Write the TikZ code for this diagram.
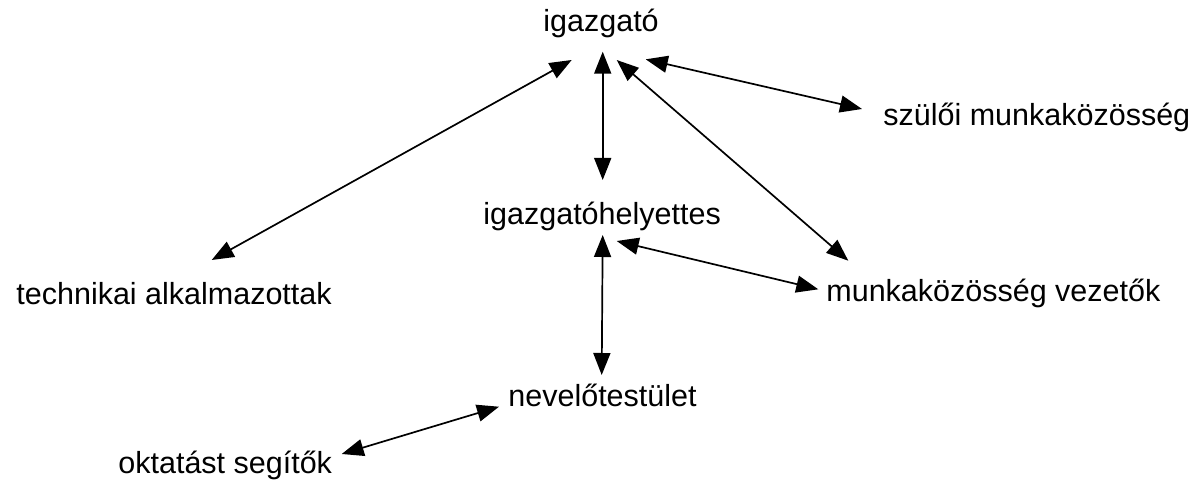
\documentclass[tikz,border=0pt]{standalone}
\usepackage{fontspec}
\setmainfont{Liberation Sans}
\usetikzlibrary{arrows.meta,calc}
\begin{document}
\begin{tikzpicture}[x=0.5pt,y=-0.5pt,
  lbl/.style={inner sep=0pt,anchor=base west,font=\fontsize{15.25}{18}\selectfont},
  link/.style={line width=0.85pt,{Triangle[length=11pt,width=8.5pt]}-{Triangle[length=11pt,width=8.5pt]}}]
\useasboundingbox[fill=white] (0,0) rectangle (1193,480);
\node[lbl] (ig)   at (543,32)    {igazgató};
\node[lbl] (szul) at (883,125.5) {szülői munkaközösség};
\node[lbl] (ih)   at (483,225)   {igazgatóhelyettes};
\node[lbl] (tech) at (16,305)    {technikai alkalmazottak};
\node[lbl] (mv)   at (826,302)   {munkaközösség vezetők};
\node[lbl] (nev)  at (508,407)   {nevelőtestület};
\node[lbl] (okt)  at (118,473)   {oktatást segítők};
\draw[link] ($(ig.base west)+(28.7,28)$) -- ($(tech.base west)+(195.7,-45)$);
\draw[link] ($(ig.base west)+(59.7,19.7)$) -- ($(ih.base west)+(119.7,-45)$);
\draw[link] ($(ig.base west)+(73.7,28)$) -- ($(mv.base west)+(22.3,-41.3)$);
\draw[link] ($(ig.base west)+(102.7,27.3)$) -- ($(szul.base west)+(-21,-16.5)$);
\draw[link] ($(ih.base west)+(133.7,16)$) -- ($(mv.base west)+(-7.7,-12.7)$);
\draw[link] ($(ih.base west)+(119.7,10)$) -- ($(nev.base west)+(93.7,-32)$);
\draw[link] ($(nev.base west)+(-9,-0.3)$) -- ($(okt.base west)+(223.7,-19)$);
\end{tikzpicture}
\end{document}
